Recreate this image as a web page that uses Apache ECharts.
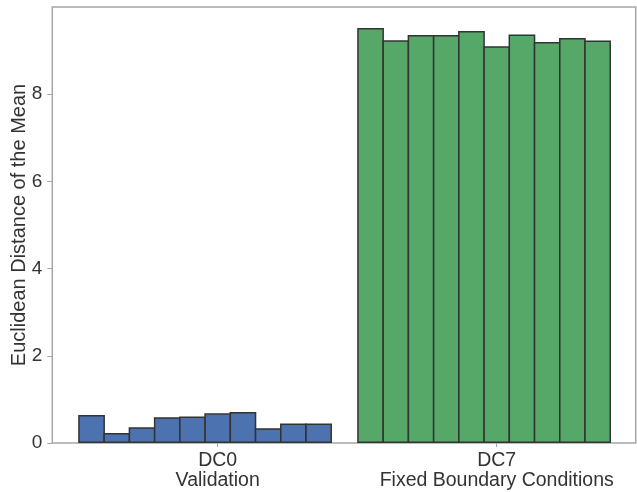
<!DOCTYPE html>
<html>
<head>
<meta charset="utf-8">
<script src="https://cdn.jsdelivr.net/npm/echarts@6/dist/echarts.min.js"></script>
<style>
html,body{margin:0;padding:0;background:#fff;}
#chart{width:637px;height:492px;}
</style>
</head>
<body>
<div id="chart"></div>
<script>
var categories = ['DC0\nValidation', 'DC7\nFixed Boundary Conditions'];
var dc0Values = [0.64, 0.23, 0.36, 0.59, 0.61, 0.68, 0.71, 0.34, 0.45, 0.45];
var dc7Values = [9.52, 9.24, 9.36, 9.36, 9.45, 9.10, 9.37, 9.20, 9.29, 9.23];
var categoryColors = ['#4c72b0', '#55a868'];
var yTicks = [0, 2, 4, 6, 8];

var FONT = "'Liberation Sans', Arial, sans-serif";
// negative gap so that neighbouring bar borders coincide (ECharts insets the stroke)
var BAR_GAP = '-5.6%';
var series = [];
for (var i = 0; i < dc0Values.length; i++) {
  series.push({
    type: 'bar',
    xAxisIndex: 0, yAxisIndex: 0,
    data: [dc0Values[i], dc7Values[i]],
    barGap: BAR_GAP,
    barCategoryGap: 0,
    itemStyle: {
      color: function (p) { return categoryColors[p.dataIndex]; },
      borderColor: '#333333',
      borderWidth: 1.5
    },
    silent: true
  });
}
// empty 11th slot (hue offset as in the original)
series.push({type: 'bar', xAxisIndex: 0, yAxisIndex: 0, data: ['-', '-'], barGap: BAR_GAP, barCategoryGap: 0});

var chart = echarts.init(document.getElementById('chart'), null, {renderer: 'canvas'});
chart.setOption({
  animation: false,
  backgroundColor: '#ffffff',
  grid: [
    {left: 78.2, right: 0.8, top: 7, bottom: 49, outerBoundsMode: 'none', containLabel: false},
    {left: 52.3, right: 1.3, top: 7, bottom: 49, outerBoundsMode: 'none', containLabel: false,
     show: true, borderColor: '#a6a6a6', borderWidth: 1.5, backgroundColor: 'transparent'}
  ],
  xAxis: [
    {
      type: 'category', gridIndex: 0, data: categories, boundaryGap: true,
      axisLine: {show: false},
      axisTick: {show: true, alignWithLabel: true, length: 4, lineStyle: {color: '#a6a6a6', width: 1}},
      axisLabel: {fontSize: 19.5, lineHeight: 20.5, color: '#333333', fontFamily: FONT, margin: 7, interval: 0}
    },
    {type: 'value', gridIndex: 1, show: false, min: 0, max: 1}
  ],
  yAxis: [
    {
      type: 'value', gridIndex: 0, min: 0, max: 10, interval: 2, offset: 25.9,
      axisLine: {show: false},
      splitLine: {show: false},
      axisTick: {show: true, length: 5, customValues: yTicks, lineStyle: {color: '#a6a6a6', width: 1}},
      axisLabel: {
        fontSize: 19, color: '#333333', fontFamily: FONT, margin: 10,
        customValues: yTicks
      },
      name: 'Euclidean Distance of the Mean',
      nameLocation: 'middle', nameGap: 23, nameMoveOverlap: false,
      nameTextStyle: {fontSize: 20, color: '#333333', fontFamily: FONT}
    },
    {type: 'value', gridIndex: 1, show: false, min: 0, max: 1}
  ],
  series: series
});
</script>
</body>
</html>
